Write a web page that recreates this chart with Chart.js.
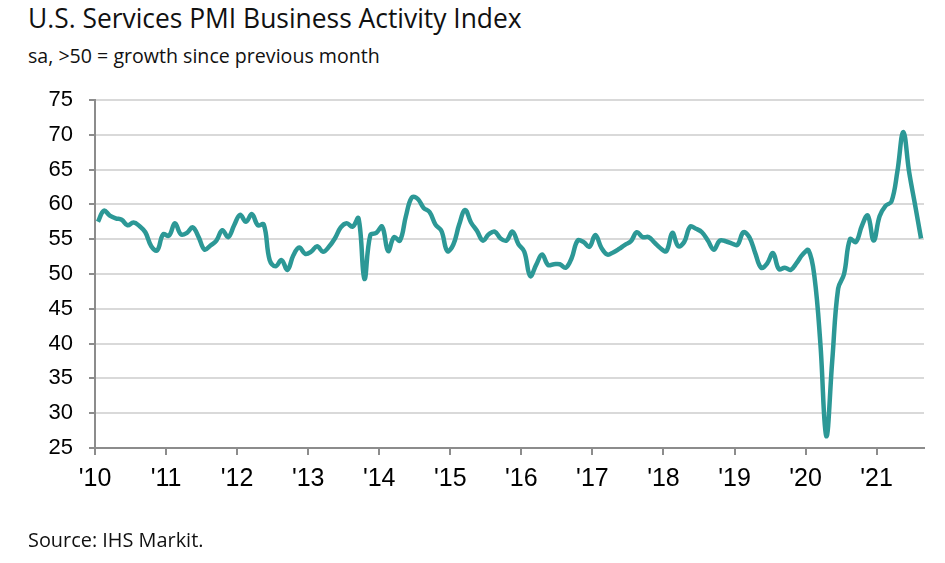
<!DOCTYPE html>
<html>
<head>
<meta charset="utf-8">
<script src="https://cdn.jsdelivr.net/npm/chart.js@4/dist/chart.umd.min.js"></script>
<style>
html,body{margin:0;padding:0;background:#fff;}
#wrap{position:relative;width:945px;height:563px;overflow:hidden;background:#fff;}
#c{position:absolute;left:0;top:0;}
.t{position:absolute;left:28px;white-space:nowrap;color:#111;font-family:"Open Sans","Noto Sans",sans-serif;line-height:1;}
#title{top:5px;font-size:26.4px;}
#subtitle{top:46px;font-size:19.6px;}
#source{top:529.6px;font-size:19.9px;}
</style>
</head>
<body>
<div id="wrap">
  <div class="t" id="title">U.S. Services PMI Business Activity Index</div>
  <div class="t" id="subtitle">sa, &gt;50 = growth since previous month</div>
  <canvas id="c" width="945" height="563"></canvas>
  <div class="t" id="source">Source: IHS Markit.</div>
</div>
<script>
// ---- data (monthly, Jan 2010 - Aug 2021) ----
const startYear = 2010;
const monthNames = ["Jan","Feb","Mar","Apr","May","Jun","Jul","Aug","Sep","Oct","Nov","Dec"];
const tickLabels = ["'10","'11","'12","'13","'14","'15","'16","'17","'18","'19","'20","'21"];
const pmiValues = [
  57.5, 59.1, 58.4, 58.0, 57.8, 57.0, 57.4, 56.9, 56.0, 54.0, 53.4, 55.7, // 2010
  55.5, 57.3, 55.7, 55.9, 56.7, 55.3, 53.5, 54.1, 54.8, 56.3, 55.3, 57.0, // 2011
  58.5, 57.5, 58.6, 57.0, 57.1, 52.0, 51.1, 52.0, 50.6, 52.7, 53.8, 52.9, // 2012
  53.2, 54.0, 53.2, 53.9, 55.1, 56.7, 57.3, 56.8, 58.0, 49.3, 55.6, 55.9, // 2013
  56.8, 53.3, 55.3, 54.8, 58.3, 61.0, 60.8, 59.5, 58.9, 57.1, 56.2, 53.3, // 2014
  54.2, 57.1, 59.2, 57.4, 56.2, 54.8, 55.7, 56.1, 55.1, 54.8, 56.1, 54.3, // 2015
  53.2, 49.7, 51.3, 52.8, 51.3, 51.4, 51.4, 50.9, 52.3, 54.8, 54.6, 53.9, // 2016
  55.6, 53.8, 52.8, 53.1, 53.6, 54.2, 54.7, 56.0, 55.3, 55.3, 54.5, 53.7, // 2017
  53.3, 55.9, 54.0, 54.6, 56.8, 56.5, 56.0, 54.8, 53.5, 54.8, 54.7, 54.4, // 2018
  54.2, 56.0, 55.3, 53.0, 50.9, 51.5, 53.0, 50.7, 50.9, 50.6, 51.6, 52.8, // 2019
  53.4, 49.6, 40.0, 26.7, 37.5, 47.9, 50.0, 55.0, 54.6, 56.9, 58.4, 54.8, // 2020
  58.3, 59.8, 60.4, 64.7, 70.4, 64.6, 59.9, 55.1                          // 2021
];
const categories = pmiValues.map((_, i) => monthNames[i % 12] + " " + (startYear + Math.floor(i / 12)));

// each month is plotted at the middle of its month slot on a month-count axis
const points = pmiValues.map((v, i) => ({ x: i + 0.5, y: v, label: categories[i] }));

const axisGrey = "#8c8c8c";
new Chart(document.getElementById("c"), {
  type: "line",
  data: {
    datasets: [{
      label: "U.S. Services PMI Business Activity Index",
      data: points,
      borderColor: "#2C9896",
      borderWidth: 4.5,
      pointRadius: 0,
      tension: 0.4,
      fill: false,
      borderCapStyle: "butt",
      borderJoinStyle: "round"
    }]
  },
  options: {
    responsive: false,
    animation: false,
    devicePixelRatio: 1,
    layout: { padding: { top: 100, left: 0, right: 21, bottom: 65 } },
    plugins: { legend: { display: false }, tooltip: { enabled: false }, title: { display: false } },
    scales: {
      x: {
        type: "linear",
        min: 0,
        max: pmiValues.length,
        afterFit(s) { s.height = 50; },
        ticks: {
          stepSize: 12,
          includeBounds: false,
          autoSkip: false,
          maxRotation: 0,
          padding: 9,
          color: "#000",
          font: { family: '"Liberation Sans", Arial, sans-serif', size: 25 },
          callback: (v) => (v % 12 === 0 ? tickLabels[v / 12] : "")
        },
        grid: { drawOnChartArea: false, drawTicks: true, tickLength: 7, color: axisGrey, lineWidth: 2 },
        border: { color: axisGrey, width: 2 }
      },
      y: {
        min: 25,
        max: 75,
        afterFit(s) { s.width = 95; },
        ticks: {
          stepSize: 5,
          padding: 16,
          color: "#000",
          font: { family: '"Liberation Sans", Arial, sans-serif', size: 22 }
        },
        grid: { color: "#d9d9d9", lineWidth: 2, tickColor: axisGrey, tickLength: 6 },
        border: { color: axisGrey, width: 2 }
      }
    }
  }
});
</script>
</body>
</html>
